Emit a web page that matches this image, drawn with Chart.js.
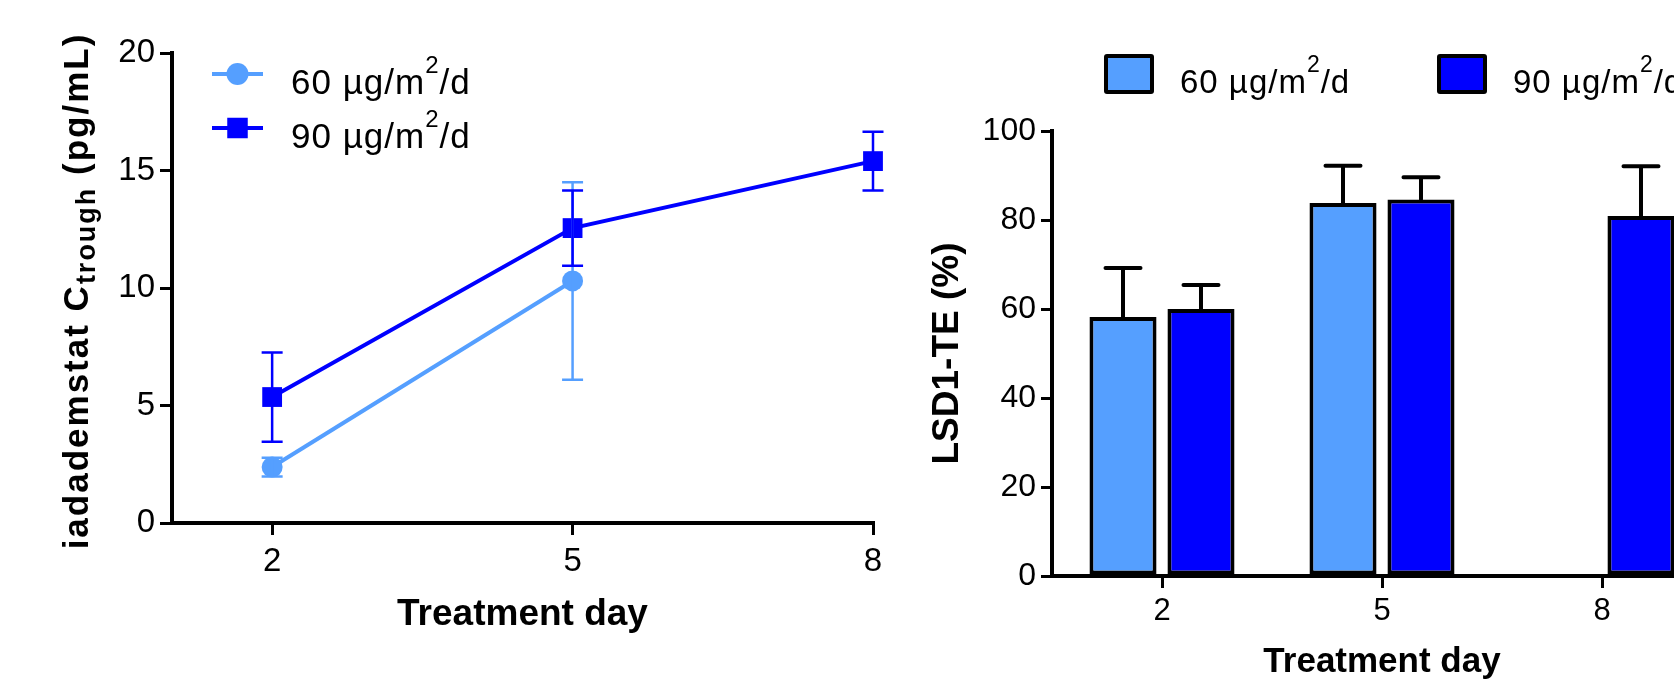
<!DOCTYPE html>
<html>
<head>
<meta charset="utf-8">
<script src="https://cdn.jsdelivr.net/npm/chart.js@4.4.0/dist/chart.umd.min.js"></script>
<style>
    html, body { margin: 0; padding: 0; background: #fff; }
    #wrap { position: relative; width: 1674px; height: 680px; overflow: hidden; }
    #pkChart { position: absolute; left: 0; top: 0; }
    #teChart { position: absolute; left: 880px; top: 0; }
</style>
</head>
<body>
<div id="wrap">
    <canvas id="pkChart" width="900" height="680"></canvas>
    <canvas id="teChart" width="880" height="680"></canvas>
</div>
<script>
// 数据
const days = [2, 5, 8];
const dayLabels = ['2', '5', '8'];
const seriesLabels = ['60 µg/m²/d', '90 µg/m²/d'];

// 左图: iadademstat Ctrough (pg/mL), 均值 ± SD
const trough60 = [2.38, 10.3, null];
const trough60Sd = [0.4, 4.2, null];
const trough90 = [5.36, 12.55, 15.4];
const trough90Sd = [1.9, 1.6, 1.25];
const troughTicks = [0, 5, 10, 15, 20];

// 右图: LSD1-TE (%), 均值 + SD
const te60 = [58.2, 83.8, null];
const te60Sd = [11.0, 8.4, null];
const te90 = [60.0, 84.6, 80.9];
const te90Sd = [5.4, 5.0, 11.2];
const teTicks = [0, 20, 40, 60, 80, 100];

const FONT = "'Liberation Sans', Arial, Helvetica, sans-serif";
const LIGHT = '#559FFF';
const DARK = '#0000FF';

Chart.defaults.font.family = FONT;
Chart.defaults.color = '#000';

/**
 * 误差线插件
 */
const errorBarPlugin = {
    id: 'errorBars',
    afterDatasetsDraw(chart, args, opts) {
        const ctx = chart.ctx;
        const yScale = chart.scales.y;
        chart.data.datasets.forEach((ds, i) => {
            if (!ds.errors) return;
            const meta = chart.getDatasetMeta(i);
            ctx.save();
            ctx.strokeStyle = opts.color || ds.borderColor;
            ctx.lineWidth = opts.width;
            ctx.lineCap = opts.lineCap || 'butt';
            meta.data.forEach((el, j) => {
                const raw = ds.data[j];
                const v = (raw !== null && typeof raw === 'object') ? raw.y : raw;
                const e = ds.errors[j];
                if (v == null || e == null) return;
                const x = el.x;
                const top = yScale.getPixelForValue(v + e);
                const bottom = yScale.getPixelForValue(opts.upOnly ? v : v - e);
                const half = opts.cap / 2;
                ctx.beginPath();
                ctx.moveTo(x, top);
                ctx.lineTo(x, bottom);
                ctx.moveTo(x - half, top);
                ctx.lineTo(x + half, top);
                if (!opts.upOnly) {
                    ctx.moveTo(x - half, bottom);
                    ctx.lineTo(x + half, bottom);
                }
                ctx.stroke();
            });
            ctx.restore();
        });
    }
};

// 带上标的单位文字
function drawUnitText(ctx, text, x, y, size, supSize, supRise, spacing) {
    const parts = text.split('²');
    ctx.save();
    ctx.letterSpacing = spacing + 'px';
    ctx.textBaseline = 'alphabetic';
    ctx.textAlign = 'left';
    ctx.fillStyle = '#000';
    ctx.font = size + 'px ' + FONT;
    ctx.fillText(parts[0], x, y);
    x += ctx.measureText(parts[0]).width;
    ctx.font = supSize + 'px ' + FONT;
    ctx.fillText('2', x, y - supRise);
    x += ctx.measureText('2').width;
    ctx.font = size + 'px ' + FONT;
    ctx.fillText(parts[1], x, y);
    ctx.restore();
}

/**
 * 左图: 图例(线 + 标记) 与 带下标的 y 轴标题
 */
const pkDecorPlugin = {
    id: 'pkDecor',
    afterDraw(chart) {
        const ctx = chart.ctx;
        const rows = [74, 128];
        chart.data.datasets.forEach((ds, i) => {
            const y = rows[i];
            ctx.save();
            ctx.strokeStyle = ds.borderColor;
            ctx.lineWidth = 4;
            ctx.beginPath();
            ctx.moveTo(212, y);
            ctx.lineTo(263, y);
            ctx.stroke();
            ctx.fillStyle = ds.backgroundColor;
            Chart.helpers.drawPoint(ctx, {
                pointStyle: ds.pointStyle, radius: ds.pointRadius + 0.5,
                borderWidth: 0, rotation: 0
            }, 237.5, y);
            ctx.restore();
            drawUnitText(ctx, ds.label, 291, y + 20, 35, 24, 21, 1);
        });

        // y 轴标题 (旋转, 含下标)
        const parts = [
            { text: 'iadademstat C', font: 'bold 35px ' + FONT, shift: 0 },
            { text: 'trough', font: 'bold 27px ' + FONT, shift: 7 },
            { text: ' (pg/mL)', font: 'bold 35px ' + FONT, shift: 0 }
        ];
        ctx.save();
        ctx.letterSpacing = '2px';
        let total = 0;
        parts.forEach(p => { ctx.font = p.font; p.w = ctx.measureText(p.text).width; total += p.w; });
        ctx.translate(88, 291);
        ctx.rotate(-Math.PI / 2);
        ctx.fillStyle = '#000';
        ctx.textBaseline = 'alphabetic';
        let x = -total / 2;
        parts.forEach(p => { ctx.font = p.font; ctx.fillText(p.text, x, p.shift); x += p.w; });
        ctx.restore();
    }
};

/**
 * 右图: 方块图例
 */
const teLegendPlugin = {
    id: 'teLegend',
    afterDraw(chart) {
        const ctx = chart.ctx;
        const boxX = [224, 557];
        chart.data.datasets.forEach((ds, i) => {
            ctx.save();
            ctx.fillStyle = '#000';
            ctx.beginPath();
            ctx.roundRect(boxX[i], 54, 50, 40, 3);
            ctx.fill();
            ctx.fillStyle = ds.backgroundColor;
            ctx.fillRect(boxX[i] + 4, 58, 42, 32);
            ctx.restore();
            drawUnitText(ctx, ds.label, boxX[i] + 76, 93, 33, 23, 21, 1);
        });
    }
};

function axisGrid(len) {
    return {
        drawOnChartArea: false,
        drawTicks: true,
        tickLength: len,
        lineWidth: 3,
        color: '#000'
    };
}

// 左图: 折线 + 误差线
new Chart(document.getElementById('pkChart'), {
    type: 'line',
    data: {
        datasets: [{
            label: seriesLabels[0],
            data: days.map((d, i) => ({ x: d, y: trough60[i] })),
            errors: trough60Sd,
            borderColor: LIGHT,
            backgroundColor: LIGHT,
            borderWidth: 4,
            pointStyle: 'circle',
            pointRadius: 10.5,
            pointHoverRadius: 10.5,
            pointBorderWidth: 0,
            tension: 0,
            clip: false
        }, {
            label: seriesLabels[1],
            data: days.map((d, i) => ({ x: d, y: trough90[i] })),
            errors: trough90Sd,
            borderColor: DARK,
            backgroundColor: DARK,
            borderWidth: 4,
            pointStyle: 'rect',
            pointRadius: 14,
            pointHoverRadius: 14,
            pointBorderWidth: 0,
            tension: 0,
            clip: false
        }]
    },
    options: {
        responsive: false,
        animation: false,
        layout: { padding: { top: 53, right: 27, left: 0, bottom: 0 } },
        plugins: {
            legend: { display: false },
            tooltip: { enabled: false },
            errorBars: { width: 2.5, cap: 21, upOnly: false }
        },
        scales: {
            x: {
                type: 'linear',
                min: 1,
                max: 8,
                afterBuildTicks: s => { s.ticks = days.map(v => ({ value: v })); },
                afterFit: s => { s.height = 157; },
                border: { color: '#000', width: 4 },
                grid: axisGrid(12),
                ticks: { font: { size: 33 }, color: '#000', padding: 7 },
                title: {
                    display: true,
                    text: 'Treatment day',
                    color: '#000',
                    font: { size: 37, weight: 'bold', lineHeight: 1 },
                    padding: { top: 0, bottom: 47 }
                }
            },
            y: {
                min: 0,
                max: 20,
                afterBuildTicks: s => { s.ticks = troughTicks.map(v => ({ value: v })); },
                afterFit: s => { s.width = 172; },
                border: { color: '#000', width: 4 },
                grid: axisGrid(12),
                ticks: { font: { size: 33 }, color: '#000', padding: 5 }
            }
        }
    },
    plugins: [errorBarPlugin, pkDecorPlugin]
});

// 右图: 分组柱状图 + 误差线
new Chart(document.getElementById('teChart'), {
    type: 'bar',
    data: {
        labels: dayLabels,
        datasets: [{
            label: seriesLabels[0],
            data: te60,
            errors: te60Sd,
            backgroundColor: LIGHT,
            borderColor: '#000',
            borderWidth: 4,
            borderSkipped: false
        }, {
            label: seriesLabels[1],
            data: te90,
            errors: te90Sd,
            backgroundColor: DARK,
            borderColor: '#000',
            borderWidth: 4,
            borderSkipped: false
        }]
    },
    options: {
        responsive: false,
        animation: false,
        categoryPercentage: 0.709,
        barPercentage: 0.86,
        layout: { padding: { top: 131, right: 48, left: 0, bottom: 0 } },
        plugins: {
            legend: { display: false },
            tooltip: { enabled: false },
            errorBars: { width: 4, cap: 35, upOnly: true, color: '#000', lineCap: 'round' }
        },
        scales: {
            x: {
                afterFit: s => { s.height = 104; },
                border: { color: '#000', width: 4 },
                grid: Object.assign(axisGrid(12), { offset: false }),
                ticks: { font: { size: 31 }, color: '#000', padding: 5 },
                title: {
                    display: true,
                    text: 'Treatment day',
                    color: '#000',
                    font: { size: 35, weight: 'bold', lineHeight: 1 },
                    padding: { top: 0, bottom: 0 }
                }
            },
            y: {
                min: 0,
                max: 100,
                afterBuildTicks: s => { s.ticks = teTicks.map(v => ({ value: v })); },
                afterFit: s => { s.width = 172; },
                border: { color: '#000', width: 4 },
                grid: axisGrid(11),
                ticks: { font: { size: 32 }, color: '#000', padding: 5 },
                title: {
                    display: true,
                    text: 'LSD1-TE (%)',
                    color: '#000',
                    font: { size: 37, weight: 'bold' },
                    padding: { top: 46, bottom: 0 }
                }
            }
        }
    },
    plugins: [errorBarPlugin, teLegendPlugin]
});
</script>
</body>
</html>
